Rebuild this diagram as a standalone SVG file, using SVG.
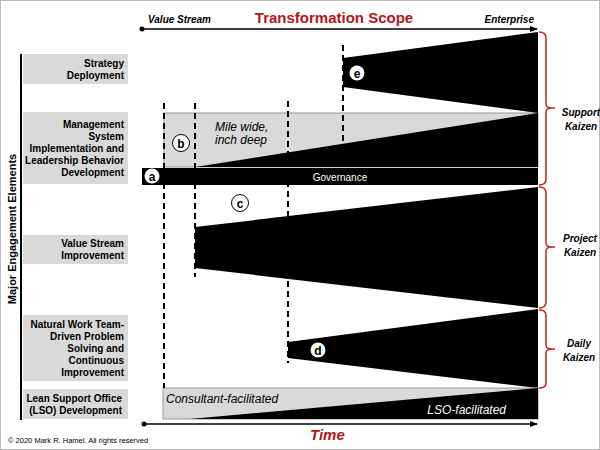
<svg xmlns="http://www.w3.org/2000/svg" width="600" height="450" viewBox="0 0 600 450">
<style>
.lbl{font-family:"Liberation Sans",Arial,sans-serif;font-size:10px;font-weight:bold;fill:#000;text-anchor:end}
.box{fill:#d9d9d9}
.it{font-family:"Liberation Sans",Arial,sans-serif;font-style:italic;font-weight:bold;font-size:10px;fill:#000}
.red{font-family:"Liberation Sans",Arial,sans-serif;font-weight:bold;fill:#b01818}
.dash{stroke:#000;stroke-width:2;stroke-dasharray:6,4;fill:none}
.br{fill:none;stroke:#cc1f1f;stroke-width:1.5}
.circ{fill:#fff;stroke:#000;stroke-width:1}
.ct{font-family:"Liberation Sans",Arial,sans-serif;font-weight:bold;font-size:12px;text-anchor:middle;fill:#000}
.sm{font-family:"Liberation Sans",Arial,sans-serif;font-style:italic;font-size:12px}
</style>
<defs>
<marker id="ah" markerWidth="8" markerHeight="8" refX="7" refY="4" orient="auto" markerUnits="userSpaceOnUse">
<path d="M0,1 L8,4 L0,7 z" fill="#000"/>
</marker>
</defs>
<rect x="0.5" y="0.5" width="599" height="449" fill="#fff" stroke="#bbb"/>

<g id="top-axis">
<line x1="142" y1="29" x2="537" y2="29" stroke="#000" stroke-width="1.5" marker-end="url(#ah)"/>
<circle cx="142" cy="29" r="2.5" fill="#000"/>
<text x="148" y="23" class="it">Value Stream</text>
<text x="334" y="23" class="red" font-size="15" text-anchor="middle">Transformation Scope</text>
<text x="534" y="23" class="it" text-anchor="end">Enterprise</text>
</g>

<g id="left-axis">
<line x1="21" y1="54" x2="21" y2="420" stroke="#000" stroke-width="2"/>
<text transform="translate(16,229) rotate(-90)" font-family="Liberation Sans,Arial,sans-serif" font-weight="bold" font-size="11" text-anchor="middle">Major Engagement Elements</text>
</g>

<g id="label-strategy">
<rect class="box" x="23" y="54" width="105" height="30"/>
<text class="lbl" x="124" y="67">Strategy</text>
<text class="lbl" x="124" y="79">Deployment</text>
</g>
<g id="label-management">
<rect class="box" x="23" y="112" width="105" height="72"/>
<text class="lbl" x="124" y="128">Management</text>
<text class="lbl" x="124" y="140">System</text>
<text class="lbl" x="124" y="152">Implementation and</text>
<text class="lbl" x="124" y="164">Leadership Behavior</text>
<text class="lbl" x="124" y="176">Development</text>
</g>
<g id="label-vsi">
<rect class="box" x="23" y="235" width="105" height="29"/>
<text class="lbl" x="124" y="247">Value Stream</text>
<text class="lbl" x="124" y="259">Improvement</text>
</g>
<g id="label-nwt">
<rect class="box" x="23" y="315" width="105" height="66"/>
<text class="lbl" x="124" y="328">Natural Work Team-</text>
<text class="lbl" x="124" y="340">Driven Problem</text>
<text class="lbl" x="124" y="352">Solving and</text>
<text class="lbl" x="124" y="364">Continuous</text>
<text class="lbl" x="124" y="376">Improvement</text>
</g>
<g id="label-lso">
<rect class="box" x="23" y="389" width="105" height="30"/>
<text class="lbl" x="122" y="402">Lean Support Office</text>
<text class="lbl" x="122" y="414">(LSO) Development</text>
</g>

<g id="mgmt-region">
<rect x="164" y="113" width="374" height="54" fill="#d9d9d9" stroke="#999" stroke-width="1"/>
<polygon points="195,167 538,113 538,167" fill="#000"/>
<text x="215" y="131" class="sm">Mile wide,</text>
<text x="215" y="144" class="sm">inch deep</text>
</g>

<g id="governance">
<rect x="142" y="168" width="396" height="17" fill="#000"/>
<text x="340" y="181" font-family="Liberation Sans,Arial,sans-serif" font-size="10" fill="#fff" text-anchor="middle">Governance</text>
</g>

<g id="strategy-wedge">
<polygon points="343,58 538,32 538,113 343,87" fill="#000"/>
</g>
<g id="vsi-wedge">
<polygon points="195,227 538,187 538,308 195,268" fill="#000"/>
</g>
<g id="nwt-wedge">
<polygon points="288,342 538,309 538,388 288,358" fill="#000"/>
</g>
<g id="lso-region">
<rect x="163" y="388" width="375" height="31" fill="#d9d9d9" stroke="#999" stroke-width="1"/>
<polygon points="190,419 538,388 538,419" fill="#000"/>
<text x="166" y="403" class="sm" fill="#000">Consultant-facilitated</text>
<text x="506" y="414" class="sm" fill="#fff" text-anchor="end">LSO-facilitated</text>
</g>

<g id="connectors">
<line class="dash" x1="164" y1="103" x2="164" y2="388"/>
<line class="dash" x1="195" y1="103" x2="195" y2="277"/>
<line class="dash" x1="288" y1="101" x2="288" y2="363"/>
<line class="dash" x1="343" y1="45" x2="343" y2="166"/>
</g>

<g id="markers">
<circle cx="152" cy="176" r="7.5" fill="#fff"/>
<text x="152" y="180.5" class="ct">a</text>
<circle class="circ" cx="181" cy="143" r="8.5"/>
<text x="181" y="147.5" class="ct">b</text>
<circle class="circ" cx="240" cy="203" r="8.5"/>
<text x="240" y="207.5" class="ct">c</text>
<circle cx="318" cy="350" r="7.5" fill="#fff"/>
<text x="318" y="354.5" class="ct">d</text>
<circle cx="357" cy="73" r="7.5" fill="#fff"/>
<text x="357" y="77.5" class="ct">e</text>
</g>

<g id="brackets">
<path class="br" d="M539,32 Q546,32 546,38 L546,104 Q546,108 552,108 L555,108 M552,108 Q546,108 546,112 L546,179 Q546,185 539,185"/>
<path class="br" d="M539,187 Q546,187 546,193 L546,243 Q546,247 552,247 L555,247 M552,247 Q546,247 546,251 L546,302 Q546,308 539,308"/>
<path class="br" d="M539,310 Q546,310 546,315 L546,345 Q546,349 552,349 L555,349 M552,349 Q546,349 546,353 L546,383 Q546,388 539,388"/>
<text x="581" y="116" class="it" text-anchor="middle">Support</text>
<text x="581" y="130" class="it" text-anchor="middle">Kaizen</text>
<text x="580" y="242" class="it" text-anchor="middle">Project</text>
<text x="580" y="256" class="it" text-anchor="middle">Kaizen</text>
<text x="579" y="347" class="it" text-anchor="middle">Daily</text>
<text x="579" y="361" class="it" text-anchor="middle">Kaizen</text>
</g>

<g id="bottom-axis">
<line x1="144" y1="424" x2="537" y2="424" stroke="#000" stroke-width="1.5" marker-end="url(#ah)"/>
<circle cx="144" cy="424" r="2.5" fill="#000"/>
<text x="310" y="440" class="red" font-size="15" font-style="italic">Time</text>
</g>

<text x="8" y="443" font-family="Liberation Sans,Arial,sans-serif" font-size="7.5" fill="#000">© 2020 Mark R. Hamel.  All rights reserved</text>
</svg>
